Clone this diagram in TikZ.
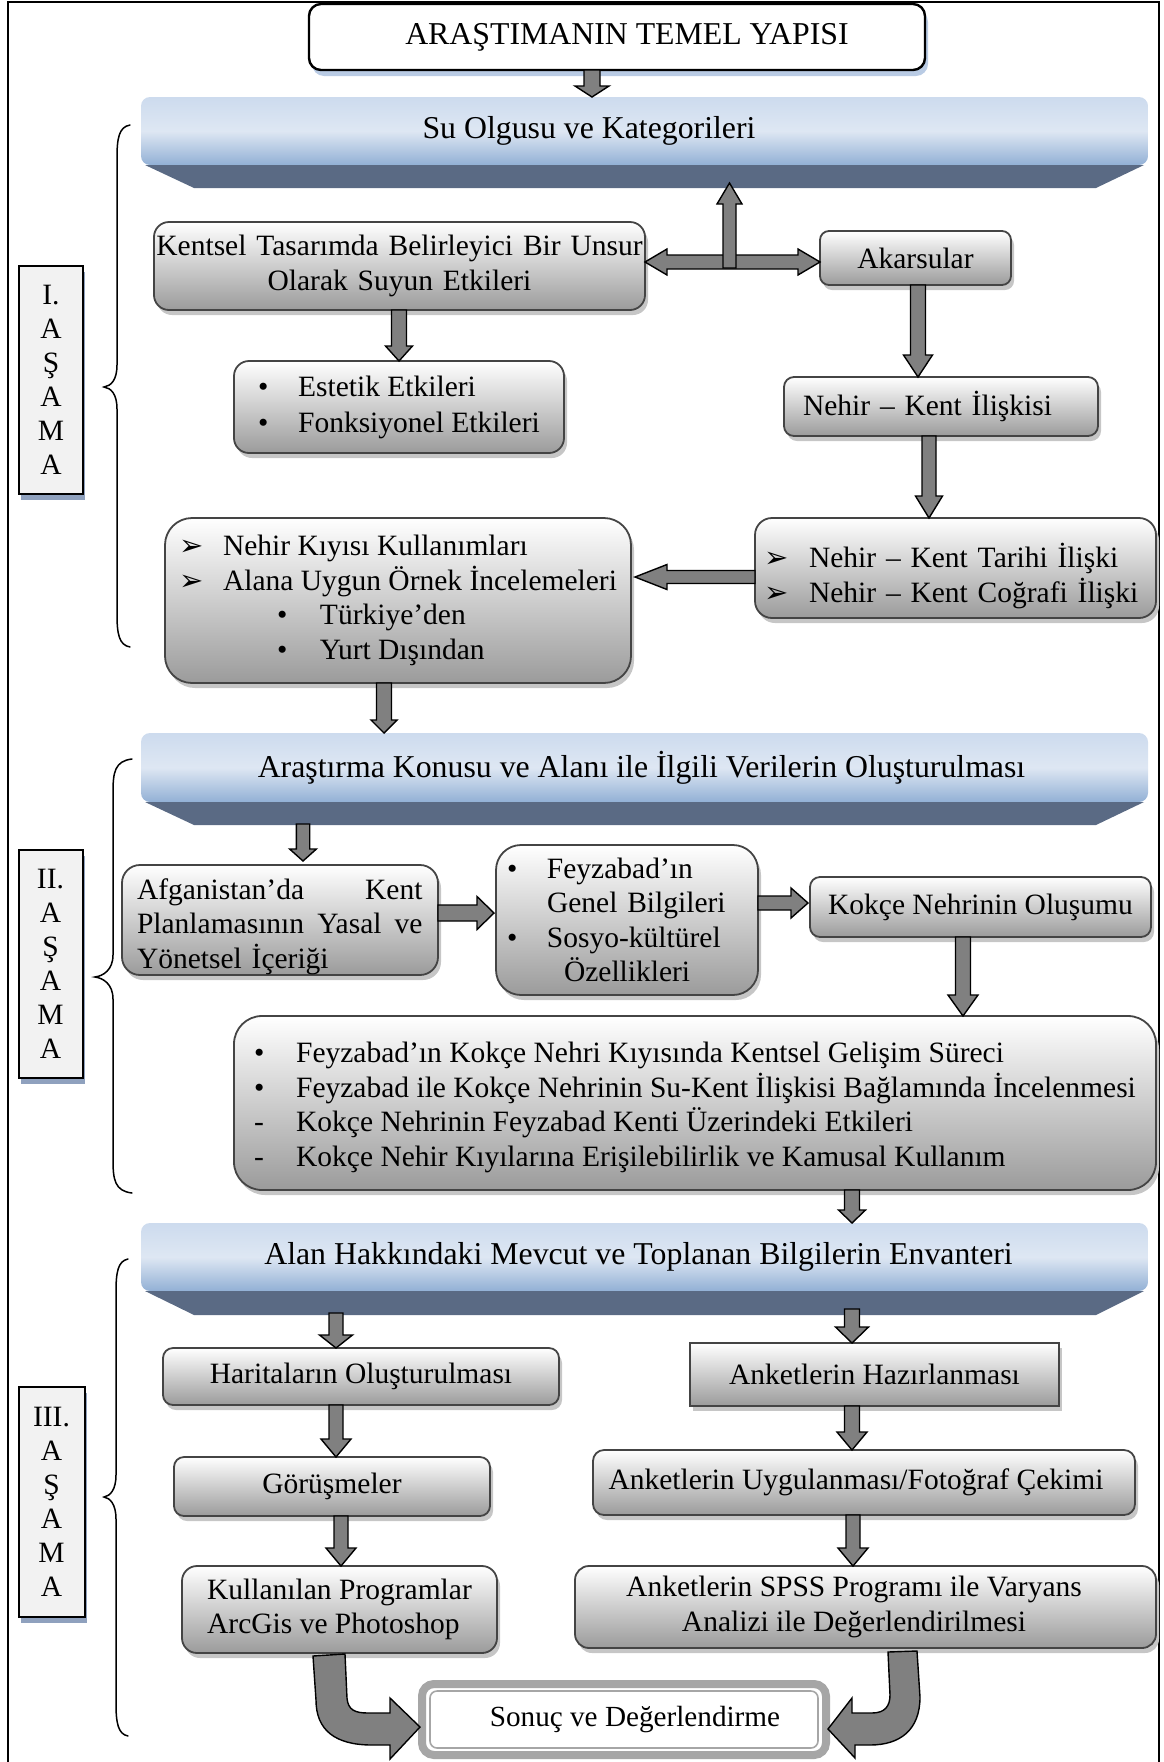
\documentclass[tikz,border=0pt]{standalone}
\usepackage{fontspec}
\setmainfont{Liberation Serif}
\newfontfamily\dejavu{DejaVu Sans}
\usetikzlibrary{calc,shadows}
\setlength{\parindent}{0pt}
\definecolor{bantop}{RGB}{205,219,238}
\definecolor{banmid}{RGB}{222,231,243}
\definecolor{banbot}{RGB}{146,176,213}
\definecolor{bevelc}{RGB}{90,106,132}
\definecolor{boxbot}{RGB}{155,155,155}
\definecolor{boxline}{RGB}{68,68,68}
\definecolor{shadowc}{RGB}{198,198,198}
\definecolor{arrowc}{RGB}{128,128,128}
\definecolor{stagefill}{RGB}{242,242,242}
\definecolor{stageshadow}{RGB}{143,161,190}
\definecolor{titleshadow}{RGB}{185,203,228}
\definecolor{sonucgray}{RGB}{166,166,166}
\newcommand\bodyfont{\fontsize{29.5}{34.5}\selectfont}
\newcommand\bannerfont{\fontsize{31.8}{36}\selectfont}
\newcommand\arrowhd{{\dejavu\fontsize{29}{29}\selectfont\char"27A2}}
\newcommand\blockarrow[6][]{%
  \coordinate (bah) at ($(#3)!#6!(#2)$);%
  \draw[arrowshape,#1] ($(#2)!#4!90:(#3)$) -- ($(bah)!#4!90:(#3)$) -- ($(bah)!#5!90:(#3)$) -- (#3) -- ($(bah)!#5!-90:(#3)$) -- ($(bah)!#4!-90:(#3)$) -- ($(#2)!#4!-90:(#3)$) -- cycle;}
\newcommand\dblarrow[6][]{%
  \coordinate (dah1) at ($(#2)!#6!(#3)$);%
  \coordinate (dah2) at ($(#3)!#6!(#2)$);%
  \draw[arrowshape,#1] (#2) -- ($(dah1)!#5!90:(#3)$) -- ($(dah1)!#4!90:(#3)$) -- ($(dah2)!#4!-90:(#2)$) -- ($(dah2)!#5!-90:(#2)$) -- (#3) -- ($(dah2)!#5!90:(#2)$) -- ($(dah2)!#4!90:(#2)$) -- ($(dah1)!#4!-90:(#3)$) -- ($(dah1)!#5!-90:(#3)$) -- cycle;}
\begin{document}
\begin{tikzpicture}[x=1pt,y=-1pt,
  every node/.style={inner sep=0pt, outer sep=0pt},
  arrowshape/.style={fill=arrowc, draw=black, line width=1.4pt, line join=miter},
  graybox/.style={draw=boxline, line width=1.8pt, top color=white, bottom color=boxbot,
    drop shadow={shadow xshift=3pt, shadow yshift=-5pt, fill=shadowc, opacity=1}, font=\bodyfont},
  titlebox/.style={draw=black, line width=2.4pt, rounded corners=12pt, fill=white,
    minimum width=616pt, minimum height=66pt, font=\bannerfont,
    drop shadow={shadow xshift=3pt, shadow yshift=-6pt, fill=titleshadow, opacity=1}},
  banner/.style={top color=bantop, bottom color=banbot, middle color=banmid, rounded corners=9pt,
    minimum width=1007pt, minimum height=68pt, font=\bannerfont},
  bevel/.style={fill=bevelc},
  stagebox/.style={draw=black, line width=2pt, fill=stagefill, align=center,
    font=\fontsize{29.5}{34}\selectfont, minimum width=64pt,
    drop shadow={shadow xshift=2pt, shadow yshift=-6pt, fill=stageshadow, opacity=1}},
  bracestyle/.style={line width=1.5pt, line cap=round},
  framestyle/.style={line width=2pt}]
\useasboundingbox (0,0) rectangle (1163,1762);
% frame
\draw[framestyle] (8,1775) -- (8,2) -- (1159,2) -- (1159,1775);

% title
\node[titlebox] (title) at (617,37) {\rule{20pt}{0pt}ARAŞTIMANIN TEMEL YAPISI};

% banner 1
\node[banner] (b1) at (644.5,131) {Su Olgusu ve Kategorileri\rule{111pt}{0pt}};
\fill[bevel] ([xshift=4pt]b1.south west) -- ([xshift=-4pt]b1.south east) -- ([xshift=-52pt,yshift=-23pt]b1.south east) -- ([xshift=53pt,yshift=-23pt]b1.south west) -- cycle;

% stage I
\node[stagebox, minimum height=228pt] (s1) at (51,380) {I.\\A\\Ş\\A\\M\\A};
\draw[bracestyle] (130,125) .. controls (119,127) and (117,138) .. (117,158) -- (117,365) .. controls (117,380) and (111,386) .. (104,387) .. controls (111,388) and (117,394) .. (117,409) -- (117,614) .. controls (117,634) and (119,645) .. (130,647);

\node[graybox, rounded corners=15pt, minimum width=491pt, minimum height=88pt, text width=490pt, align=center] (kentsel) at (399.5,266) {Kentsel Tasarımda Belirleyici Bir Unsur\\Olarak Suyun Etkileri};
\node[graybox, rounded corners=9pt, minimum width=191pt, minimum height=54pt] (akarsular) at (915.5,258) {Akarsular};
\node[graybox, rounded corners=15pt, minimum width=330pt, minimum height=92pt, align=left] (estetik) at (399,407) {\makebox[40pt][l]{\textbullet}Estetik Etkileri\\[1.5pt]\makebox[40pt][l]{\textbullet}Fonksiyonel Etkileri};
\node[graybox, rounded corners=10pt, minimum width=314pt, minimum height=59pt, text width=276pt, align=left] (nehirkent) at (941,406.5) {Nehir – Kent İlişkisi};
\node[graybox, rounded corners=17pt, minimum width=401pt, minimum height=100pt, text width=383pt, align=left] (tarihi) at (955.5,568) {\rule{0pt}{40pt}\makebox[45pt][l]{\arrowhd}Nehir – Kent Tarihi İlişki\\\makebox[45pt][l]{\arrowhd}Nehir – Kent Coğrafi İlişki};
\node[graybox, rounded corners=27pt, minimum width=466pt, minimum height=165pt, align=left] (kiyisi) at (398,600.5) {\makebox[44pt][l]{\arrowhd}Nehir Kıyısı Kullanımları\\\makebox[44pt][l]{\arrowhd}Alana Uygun Örnek İncelemeleri\\\hspace*{98pt}\makebox[43pt][l]{\textbullet}Türkiye’den\\\hspace*{98pt}\makebox[43pt][l]{\textbullet}Yurt Dışından};

% banner 2
\node[banner, minimum height=69pt] (b2) at (644.5,767.5) {Araştırma Konusu ve Alanı ile İlgili Verilerin Oluşturulması\rule{6pt}{0pt}};
\fill[bevel] ([xshift=4pt]b2.south west) -- ([xshift=-4pt]b2.south east) -- ([xshift=-52pt,yshift=-23pt]b2.south east) -- ([xshift=53pt,yshift=-23pt]b2.south west) -- cycle;

% stage II
\node[stagebox, minimum height=228pt] (s2) at (50.5,964) {II.\\A\\Ş\\A\\M\\A};
\draw[bracestyle] (132,759) .. controls (115,761) and (113,772) .. (113,792) -- (113,955) .. controls (113,970) and (103,976) .. (95,977) .. controls (103,978) and (113,984) .. (113,999) -- (113,1160) .. controls (113,1180) and (115,1191) .. (132,1193);

\node[graybox, rounded corners=18pt, minimum width=316pt, minimum height=110pt, text width=286pt, align=left] (afg) at (280,920) {\rule{0pt}{34pt}\makebox[285.5pt]{Afganistan’da\hfill Kent}\\\makebox[285.5pt]{Planlamasının\hfill Yasal\hfill ve}\\Yönetsel İçeriği};
\node[graybox, rounded corners=25pt, minimum width=262pt, minimum height=150pt, text width=240pt, align=left] (feyz) at (627,920) {\makebox[40pt][l]{\textbullet}Feyzabad’ın\\\hspace*{40pt}Genel Bilgileri\\\makebox[40pt][l]{\textbullet}Sosyo-kültürel\\\hspace*{57pt}Özellikleri};
\node[graybox, rounded corners=10pt, minimum width=341pt, minimum height=60pt] (kokce) at (980.5,907) {Kokçe Nehrinin Oluşumu};
\node[graybox, rounded corners=28pt, minimum width=922pt, minimum height=174pt, align=left] (bigbox) at (695,1103) {\rule{0pt}{29pt}\makebox[42pt][l]{\textbullet}Feyzabad’ın Kokçe Nehri Kıyısında Kentsel Gelişim Süreci\\\makebox[42pt][l]{\textbullet}Feyzabad ile Kokçe Nehrinin Su-Kent İlişkisi Bağlamında İncelenmesi\\\makebox[42pt][l]{-}Kokçe Nehrinin Feyzabad Kenti Üzerindeki Etkileri\\\makebox[42pt][l]{-}Kokçe Nehir Kıyılarına Erişilebilirlik ve Kamusal Kullanım};

% banner 3
\node[banner] (b3) at (644.5,1257) {Alan Hakkındaki Mevcut ve Toplanan Bilgilerin Envanteri\rule{12pt}{0pt}};
\fill[bevel] ([xshift=4pt]b3.south west) -- ([xshift=-4pt]b3.south east) -- ([xshift=-52pt,yshift=-24pt]b3.south east) -- ([xshift=53pt,yshift=-24pt]b3.south west) -- cycle;

% stage III
\node[stagebox, minimum height=230pt, minimum width=66pt] (s3) at (51.5,1502) {III.\\A\\Ş\\A\\M\\A};
\draw[bracestyle] (128,1259) .. controls (118,1261) and (116,1272) .. (116,1292) -- (116,1475) .. controls (116,1490) and (110,1496) .. (104,1497) .. controls (110,1498) and (116,1504) .. (116,1519) -- (116,1703) .. controls (116,1723) and (118,1734) .. (128,1736);

\node[graybox, rounded corners=10pt, minimum width=396pt, minimum height=57pt] (harita) at (361,1376.5) {Haritaların Oluşturulması};
\node[graybox, minimum width=369pt, minimum height=63pt] (hazir) at (874.5,1374.5) {Anketlerin Hazırlanması};
\node[graybox, rounded corners=10pt, minimum width=316pt, minimum height=59pt] (gorus) at (332,1486.5) {Görüşmeler};
\node[graybox, rounded corners=11pt, minimum width=542pt, minimum height=65pt] (uygul) at (864,1482.5) {Anketlerin Uygulanması/Fotoğraf Çekimi\rule{16pt}{0pt}};
\node[graybox, rounded corners=15pt, minimum width=315pt, minimum height=87pt, align=left] (kullan) at (339.5,1609.5) {Kullanılan Programlar\\ArcGis ve Photoshop};
\node[graybox, rounded corners=14pt, minimum width=581pt, minimum height=82pt, align=center] (spss) at (865.5,1607) {Anketlerin SPSS Programı ile Varyans\rule{23pt}{0pt}\\Analizi ile Değerlendirilmesi\rule{23pt}{0pt}};

% final box
\node[draw=sonucgray, line width=8pt, rounded corners=12pt, fill=white, minimum width=404pt, minimum height=71pt, font=\fontsize{29.2}{34}\selectfont] (sonuc) at (624,1719.5) {\rule{22pt}{0pt}Sonuç ve Değerlendirme};
\draw[sonucgray, line width=1.6pt, rounded corners=7pt] ($(sonuc.north west)+(8,7)$) rectangle ($(sonuc.south east)+(-8,-7)$);

% ---- arrows ----
\coordinate (a1s) at (title.south -| 592,0);
\coordinate (a1e) at (b1.north -| 592,0);
\blockarrow{a1s}{a1e}{8pt}{17pt}{11pt}

\coordinate (a2s) at (kentsel.east |- 0,262);
\coordinate (a2e) at (akarsular.west |- 0,262);
\dblarrow{a2s}{a2e}{7pt}{13pt}{22pt}
\coordinate (hub) at (729.5,268);
\coordinate (hube) at ($(b1.south -| 729.5,0)+(0,18)$);
\blockarrow{hub}{hube}{6.5pt}{12.5pt}{21pt}

\coordinate (a4s) at (kentsel.south -| 399,0);
\coordinate (a4e) at (estetik.north -| 399,0);
\blockarrow{a4s}{a4e}{7.5pt}{13.5pt}{15pt}

\coordinate (a5s) at (akarsular.south -| 918,0);
\coordinate (a5e) at (nehirkent.north -| 918,0);
\blockarrow{a5s}{a5e}{7.5pt}{14.5pt}{22pt}

\coordinate (a6s) at (nehirkent.south -| 929,0);
\coordinate (a6e) at (tarihi.north -| 929,0);
\blockarrow{a6s}{a6e}{7pt}{13.5pt}{22pt}

\coordinate (a7s) at (tarihi.west |- 0,577);
\coordinate (a7e) at ($(kiyisi.east |- 0,577)+(4,0)$);
\blockarrow{a7s}{a7e}{6.5pt}{12.5pt}{32pt}

\coordinate (a8s) at (kiyisi.south -| 384,0);
\coordinate (a8e) at (b2.north -| 384,0);
\blockarrow{a8s}{a8e}{7.5pt}{13pt}{13pt}

\coordinate (a9s) at ($(b2.south -| 303,0)+(0,22)$);
\coordinate (a9e) at ($(afg.north -| 303,0)+(0,-4)$);
\blockarrow{a9s}{a9e}{6.7pt}{13.4pt}{12pt}

\coordinate (a10s) at (afg.east |- 0,913);
\coordinate (a10e) at ($(feyz.west |- 0,913)+(-2,0)$);
\blockarrow{a10s}{a10e}{8pt}{16.5pt}{17pt}

\coordinate (a11s) at (feyz.east |- 0,903);
\coordinate (a11e) at ($(kokce.west |- 0,903)+(-2,0)$);
\blockarrow{a11s}{a11e}{7pt}{15pt}{17pt}

\coordinate (a12s) at (kokce.south -| 963,0);
\coordinate (a12e) at (bigbox.north -| 963,0);
\blockarrow{a12s}{a12e}{7.5pt}{15pt}{21pt}

\coordinate (a13s) at (bigbox.south -| 852,0);
\coordinate (a13e) at (b3.north -| 852,0);
\blockarrow{a13s}{a13e}{7.5pt}{13.5pt}{13pt}

\coordinate (a14s) at ($(b3.south -| 336,0)+(0,22)$);
\coordinate (a14e) at (harita.north -| 336,0);
\blockarrow{a14s}{a14e}{7pt}{16.5pt}{13pt}

\coordinate (a15s) at ($(b3.south -| 852,0)+(0,18)$);
\coordinate (a15e) at (hazir.north -| 852,0);
\blockarrow{a15s}{a15e}{7.5pt}{16.5pt}{16pt}

\coordinate (a16s) at (harita.south -| 336,0);
\coordinate (a16e) at (gorus.north -| 336,0);
\blockarrow{a16s}{a16e}{7pt}{15pt}{18pt}

\coordinate (a17s) at (hazir.south -| 852,0);
\coordinate (a17e) at (uygul.north -| 852,0);
\blockarrow{a17s}{a17e}{7.5pt}{15pt}{18pt}

\coordinate (a18s) at (gorus.south -| 341,0);
\coordinate (a18e) at (kullan.north -| 341,0);
\blockarrow{a18s}{a18e}{7pt}{15pt}{18pt}

\coordinate (a19s) at (uygul.south -| 853,0);
\coordinate (a19e) at (spss.north -| 853,0);
\blockarrow{a19s}{a19e}{7pt}{15pt}{18pt}

% curved arrows into the final box
\draw[arrowshape] (313,1656) -- (345,1654) -- (347,1698) .. controls (348,1710) and (355,1713) .. (368,1713) -- (390,1713) -- (390,1698) -- ($(sonuc.west)+(-2,7.5)$) -- (390,1759) -- (390,1745) -- (372,1745) .. controls (335,1745) and (316,1730) .. (316,1700) -- cycle;
\draw[arrowshape] (888,1652) -- (917,1651) -- (920,1697) .. controls (920,1730) and (900,1745) .. (870,1745) -- (855,1745) -- (855,1758) -- ($(sonuc.east)+(2,9.5)$) -- (852,1698) -- (852,1713) -- (872,1713) .. controls (885,1713) and (890,1706) .. (890,1695) -- cycle;
\end{tikzpicture}
\end{document}
